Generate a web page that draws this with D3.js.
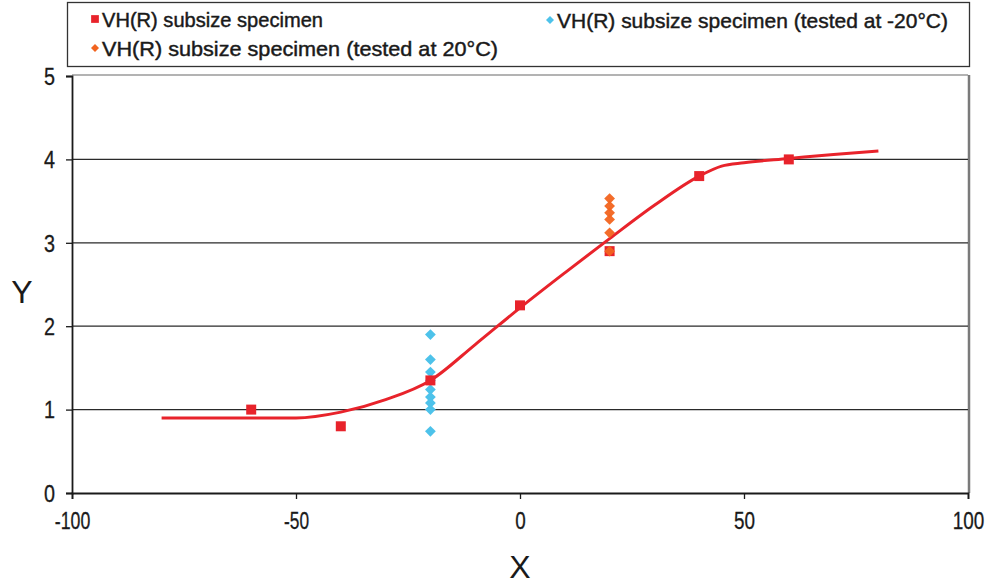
<!DOCTYPE html>
<html>
<head>
<meta charset="utf-8">
<script src="https://cdn.jsdelivr.net/npm/d3@7/dist/d3.min.js"></script>
<style>
  html, body { margin: 0; padding: 0; background: #fff; }
  svg { display: block; font-family: "Liberation Sans", Arial, sans-serif; }
</style>
</head>
<body>
<svg id="chart" width="993" height="584"></svg>
<script>
// Subsize specimen measurements
const squareX = [-60, -40, -20, 0, 20, 40, 60];
const squareY = [1.0, 0.8, 1.35, 2.25, 2.9, 3.8, 4.0];

// Specimens tested at -20°C
const cyanX = [-20, -20, -20, -20, -20, -20, -20, -20, -20];
const cyanY = [1.9, 1.6, 1.45, 1.35, 1.24, 1.15, 1.08, 1.0, 0.74];

// Specimens tested at 20°C
const orangeX = [20, 20, 20, 20, 20, 20];
const orangeY = [3.53, 3.44, 3.36, 3.28, 3.12, 2.9];

// Fitted transition curve
const curveX = [-80, -70, -60, -50, -40, -30, -20, -10, 0, 10, 20, 30, 40, 45, 50, 60, 70, 80];
const curveY = [0.9, 0.9, 0.9, 0.9, 0.97, 1.12, 1.35, 1.78, 2.22, 2.64, 3.05, 3.45, 3.8, 3.92, 3.96, 4.01, 4.06, 4.1];

const xTicks = [-100, -50, 0, 50, 100];
const yTicks = [0, 1, 2, 3, 4, 5];
const gridY = [1, 2, 3, 4];

const legendLabels = [
  "VH(R) subsize specimen",
  "VH(R) subsize specimen (tested at -20°C)",
  "VH(R) subsize specimen (tested at 20°C)"
];

const RED = "#e8232b", CYAN = "#4dc2ea", ORANGE = "#f2641f", INK = "#1a1a1a";

const svg = d3.select("#chart");
const x = d3.scaleLinear().domain([-100, 100]).range([72, 968]);
const y = d3.scaleLinear().domain([0, 5]).range([493, 76]);

// plot frame: light top edge, grey right edge
svg.append("line").attr("x1", x(-100)).attr("x2", x(100)).attr("y1", y(5) - 1).attr("y2", y(5) - 1)
  .attr("stroke", "#9a9a9a").attr("stroke-width", 1.5);
svg.append("line").attr("x1", x(100) + 1).attr("x2", x(100) + 1).attr("y1", y(5) - 1).attr("y2", y(0))
  .attr("stroke", "#7a7a7a").attr("stroke-width", 2.5);

// horizontal gridlines
svg.append("g").selectAll("line").data(gridY).join("line")
  .attr("x1", x(-100)).attr("x2", x(100))
  .attr("y1", d => y(d)).attr("y2", d => y(d))
  .attr("stroke", "#2a2a2a").attr("stroke-width", 1.3);

// axes (plain hyphen for negative numbers)
const fmt = d => String(d);
const xAxis = svg.append("g").attr("transform", `translate(0,${y(0)})`)
  .call(d3.axisBottom(x).tickValues(xTicks).tickSize(6).tickPadding(14).tickFormat(fmt));
const yAxis = svg.append("g").attr("transform", `translate(${x(-100)},0)`)
  .call(d3.axisLeft(y).tickValues(yTicks).tickSize(6).tickPadding(11).tickFormat(fmt));
[xAxis, yAxis].forEach(g => {
  g.attr("font-size", 23).attr("font-family", "'Liberation Sans', Arial, sans-serif");
  g.select(".domain").attr("stroke", INK).attr("stroke-width", 1.8);
  g.selectAll(".tick line").attr("stroke", INK).attr("stroke-width", 1.3);
  g.selectAll(".tick text").attr("fill", INK)
    .attr("stroke", INK).attr("stroke-width", 0.3);
});
// condensed tick labels
xAxis.selectAll(".tick text")
  .attr("textLength", d => String(d).replace("-", "").length * 10.5 + (d < 0 ? 4 : 0))
  .attr("lengthAdjust", "spacingAndGlyphs");
yAxis.selectAll(".tick text").attr("dy", "0.36em")
  .attr("textLength", 11).attr("lengthAdjust", "spacingAndGlyphs");

// axis titles
svg.append("text").attr("x", 520).attr("y", 578).attr("text-anchor", "middle")
  .attr("font-size", 32).attr("fill", INK).text("X");
svg.append("text").attr("x", 22).attr("y", 303).attr("text-anchor", "middle")
  .attr("font-size", 32).attr("fill", INK).text("Y");

// fitted curve
const line = d3.line().x(d => x(d[0])).y(d => y(d[1])).curve(d3.curveMonotoneX);
svg.append("path").datum(d3.zip(curveX, curveY))
  .attr("d", line).attr("fill", "none").attr("stroke", RED).attr("stroke-width", 3);

const square = d3.symbol().type(d3.symbolSquare).size(100);
// diamond = square turned by 45 degrees
const diamond = d3.symbol().type(d3.symbolSquare).size(58);

svg.append("g").selectAll("path").data(d3.zip(cyanX, cyanY)).join("path")
  .attr("d", diamond).attr("fill", CYAN)
  .attr("transform", d => `translate(${x(d[0])},${y(d[1])}) rotate(45)`);

svg.append("g").selectAll("path").data(d3.zip(squareX, squareY)).join("path")
  .attr("d", square).attr("fill", RED)
  .attr("transform", d => `translate(${x(d[0])},${y(d[1])})`);

svg.append("g").selectAll("path").data(d3.zip(orangeX, orangeY)).join("path")
  .attr("d", diamond).attr("fill", ORANGE).attr("opacity", 0.95)
  .attr("transform", d => `translate(${x(d[0])},${y(d[1])}) rotate(45)`);

// legend
const lg = svg.append("g");
lg.append("rect").attr("x", 67.5).attr("y", 2.5).attr("width", 902).attr("height", 64)
  .attr("fill", "#fff").attr("stroke", "#333").attr("stroke-width", 1.3);
const legendItems = [
  { label: legendLabels[0], sym: d3.symbol().type(d3.symbolSquare).size(60), rot: 0, color: RED, mx: 95, my: 19, len: 221 },
  { label: legendLabels[1], sym: d3.symbol().type(d3.symbolSquare).size(32), rot: 45, color: CYAN, mx: 550, my: 20, len: 391 },
  { label: legendLabels[2], sym: d3.symbol().type(d3.symbolSquare).size(32), rot: 45, color: ORANGE, mx: 95, my: 48, len: 396 }
];
legendItems.forEach(it => {
  lg.append("path").attr("d", it.sym).attr("fill", it.color)
    .attr("transform", `translate(${it.mx},${it.my}) rotate(${it.rot})`);
  lg.append("text").attr("x", it.mx + 7).attr("y", it.my + 8)
    .attr("font-size", 21).attr("fill", INK)
    .attr("stroke", INK).attr("stroke-width", 0.45)
    .attr("textLength", it.len).attr("lengthAdjust", "spacingAndGlyphs")
    .text(it.label);
});
</script>
</body>
</html>
